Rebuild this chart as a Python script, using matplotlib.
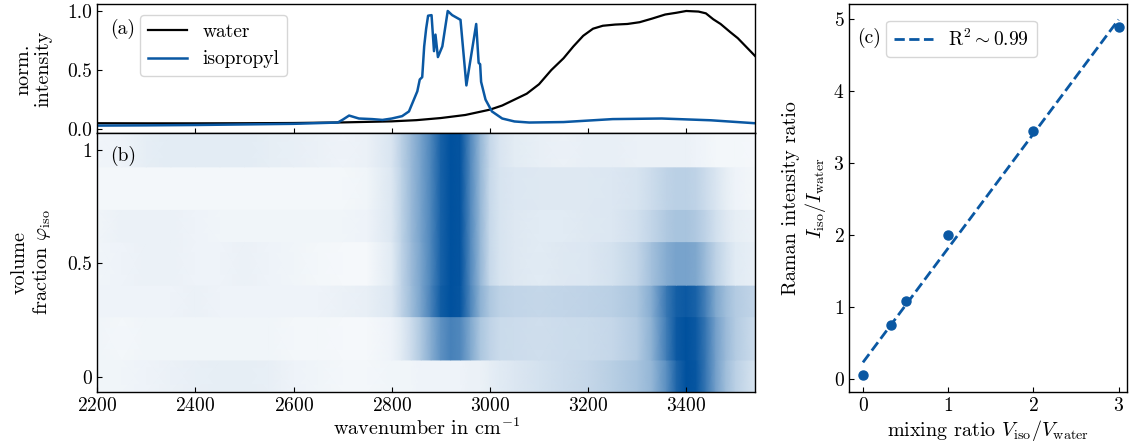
import matplotlib
matplotlib.use("Agg")
import matplotlib.pyplot as plt
import numpy as np
from matplotlib.colors import LinearSegmentedColormap

# pure spectra, normalised to their maximum
water_wn = [2200, 2300, 2400, 2500, 2600, 2700, 2800, 2850, 2900, 2950, 3000, 3025,
            3050, 3075, 3100, 3125, 3150, 3170, 3190, 3210, 3230, 3255, 3280, 3305,
            3330, 3357, 3380, 3400, 3425, 3440, 3455, 3470, 3490, 3505, 3540]
water_int = [0.050, 0.049, 0.049, 0.050, 0.052, 0.057, 0.066, 0.076, 0.094, 0.12, 0.165, 0.20,
             0.25, 0.30, 0.38, 0.50, 0.60, 0.70, 0.79, 0.85, 0.875, 0.885, 0.89, 0.905,
             0.935, 0.97, 0.985, 1.0, 0.995, 0.98, 0.93, 0.89, 0.82, 0.77, 0.62]

iso_wn = [2200, 2300, 2400, 2500, 2600, 2690, 2700, 2713, 2733, 2760, 2781, 2800,
          2821, 2835, 2845, 2852, 2857, 2862, 2866, 2870, 2874, 2881, 2886, 2889,
          2894, 2903, 2914, 2923, 2940, 2952, 2972, 2977, 2980, 2982, 2991, 3004,
          3025, 3050, 3080, 3150, 3250, 3350, 3450, 3540]
iso_int = [0.030, 0.032, 0.035, 0.040, 0.045, 0.056, 0.08, 0.115, 0.09, 0.085, 0.078, 0.09,
           0.11, 0.15, 0.25, 0.32, 0.42, 0.44, 0.70, 0.85, 0.96, 0.965, 0.66, 0.80,
           0.61, 0.70, 1.0, 0.965, 0.925, 0.37, 0.89, 0.56, 0.55, 0.40, 0.25, 0.15,
           0.09, 0.065, 0.056, 0.06, 0.085, 0.09, 0.075, 0.05]

# mixture spectra for the map, one row per volume fraction (bottom to top)
hm_wn = [2200, 2250, 2300, 2350, 2400, 2450, 2500, 2550, 2600, 2650, 2700, 2750,
         2800, 2820, 2840, 2860, 2880, 2900, 2920, 2940, 2960, 2980, 3000, 3020,
         3050, 3100, 3150, 3200, 3250, 3300, 3330, 3360, 3380, 3400, 3420, 3440,
         3460, 3480, 3500, 3540]
row_000 = [0.06, 0.06, 0.07, 0.08, 0.09, 0.10, 0.10, 0.09, 0.07, 0.06, 0.05, 0.05,
           0.06, 0.06, 0.06, 0.07, 0.07, 0.07, 0.07, 0.07, 0.08, 0.08, 0.10, 0.12,
           0.14, 0.17, 0.20, 0.23, 0.28, 0.34, 0.42, 0.65, 0.88, 1.00, 0.97, 0.78,
           0.55, 0.38, 0.27, 0.16]
row_025 = [0.06, 0.05, 0.06, 0.06, 0.06, 0.06, 0.06, 0.06, 0.05, 0.05, 0.04, 0.04,
           0.07, 0.12, 0.20, 0.32, 0.47, 0.63, 0.72, 0.68, 0.50, 0.33, 0.25, 0.21,
           0.20, 0.19, 0.20, 0.21, 0.23, 0.30, 0.45, 0.75, 0.95, 1.00, 0.95, 0.78,
           0.55, 0.40, 0.30, 0.20]
row_033 = [0.07, 0.07, 0.07, 0.07, 0.08, 0.07, 0.07, 0.07, 0.07, 0.07, 0.08, 0.09,
           0.14, 0.25, 0.38, 0.53, 0.72, 0.93, 1.00, 0.97, 0.70, 0.45, 0.32, 0.26,
           0.24, 0.23, 0.24, 0.25, 0.27, 0.33, 0.48, 0.78, 0.92, 0.95, 0.90, 0.72,
           0.50, 0.38, 0.30, 0.24]
row_050 = [0.06, 0.07, 0.08, 0.08, 0.07, 0.07, 0.08, 0.07, 0.06, 0.05, 0.04, 0.04,
           0.12, 0.25, 0.39, 0.53, 0.70, 0.91, 1.00, 0.98, 0.68, 0.42, 0.22, 0.16,
           0.13, 0.12, 0.13, 0.14, 0.17, 0.24, 0.36, 0.48, 0.53, 0.53, 0.50, 0.38,
           0.26, 0.18, 0.12, 0.09]
row_067 = [0.06, 0.08, 0.08, 0.08, 0.07, 0.06, 0.06, 0.06, 0.06, 0.06, 0.06, 0.07,
           0.14, 0.26, 0.40, 0.54, 0.70, 0.91, 1.00, 0.98, 0.68, 0.42, 0.22, 0.16,
           0.13, 0.12, 0.12, 0.13, 0.14, 0.18, 0.24, 0.31, 0.34, 0.34, 0.31, 0.25,
           0.18, 0.13, 0.10, 0.08]
row_075 = [0.05, 0.05, 0.05, 0.05, 0.05, 0.05, 0.05, 0.05, 0.05, 0.05, 0.05, 0.06,
           0.14, 0.26, 0.40, 0.54, 0.70, 0.91, 1.00, 0.98, 0.68, 0.42, 0.22, 0.16,
           0.14, 0.13, 0.13, 0.13, 0.14, 0.16, 0.20, 0.25, 0.27, 0.27, 0.25, 0.20,
           0.15, 0.10, 0.07, 0.05]
row_100 = [0.06, 0.07, 0.10, 0.11, 0.11, 0.11, 0.11, 0.10, 0.09, 0.08, 0.07, 0.08,
           0.15, 0.27, 0.40, 0.54, 0.70, 0.91, 1.00, 0.98, 0.68, 0.42, 0.23, 0.15,
           0.11, 0.09, 0.08, 0.09, 0.09, 0.08, 0.08, 0.08, 0.08, 0.08, 0.07, 0.06,
           0.05, 0.05, 0.05, 0.04]
hm_rows = [row_000, row_025, row_033, row_050, row_067, row_075, row_100]
row_edges = [-0.066, 0.074, 0.265, 0.404, 0.596, 0.738, 0.926, 1.074]

# intensity ratio vs. mixing ratio
mix_ratio = [0, 1 / 3, 0.5, 1, 2, 3]
int_ratio = [0.06, 0.75, 1.09, 2.01, 3.45, 4.90]

blue = "#0a58a3"
cmap = LinearSegmentedColormap.from_list("wb", ["#ffffff", "#00519e"])

plt.rcParams.update({
    "font.family": "serif",
    "font.serif": ["cmr10"],
    "mathtext.fontset": "cm",
    "axes.formatter.use_mathtext": True,
    "font.size": 14,
    "axes.labelsize": 14.5,
    "xtick.direction": "in",
    "ytick.direction": "in",
    "axes.linewidth": 1.0,
})

fig = plt.figure(figsize=(11.29, 4.48), dpi=100)
ax_a = fig.add_axes([0.0862, 0.7025, 0.5825, 0.2875])
ax_b = fig.add_axes([0.0862, 0.1257, 0.5825, 0.5768], sharex=ax_a)
ax_c = fig.add_axes([0.7523, 0.125, 0.2460, 0.8654])

# (a) reference spectra
ax_a.plot(water_wn, water_int, color="black", lw=1.6, label="water")
ax_a.plot(iso_wn, iso_int, color=blue, lw=1.8, label="isopropyl")
ax_a.set_ylim(-0.035, 1.055)
ax_a.set_yticks([0, 0.5, 1.0])
ax_a.set_yticklabels(["0.0", "0.5", "1.0"])
ax_a.tick_params(labelbottom=False)
ax_a.set_ylabel("norm.\nintensity", linespacing=1.15)
ax_a.yaxis.set_label_coords(-0.068, 0.5)
ax_a.text(0.02, 0.81, "(a)", transform=ax_a.transAxes, va="center", ha="left")
ax_a.legend(loc="upper left", bbox_to_anchor=(0.065, 0.918), borderaxespad=0)

# (b) spectra of the mixtures
wn = np.array(hm_wn)
for lo, hi, row in zip(row_edges[:-1], row_edges[1:], hm_rows):
    X, Y = np.meshgrid(wn, [lo, hi])
    C = np.vstack([row, row])
    ax_b.pcolormesh(X, Y, C, shading="gouraud", cmap=cmap, vmin=0, vmax=1)
ax_b.set_xlim(2200, 3540)
ax_b.set_ylim(row_edges[0], row_edges[-1])
ax_b.set_xticks([2200, 2400, 2600, 2800, 3000, 3200, 3400])
ax_b.set_yticks([0, 0.5, 1])
ax_b.set_yticklabels(["0", "0.5", "1"])
ax_b.set_xlabel("wavenumber in cm$^{-1}$", labelpad=2)
ax_b.set_ylabel("volume\nfraction $\\varphi_\\mathrm{iso}$", linespacing=1.15)
ax_b.yaxis.set_label_coords(-0.068, 0.5)
ax_b.text(0.02, 0.912, "(b)", transform=ax_b.transAxes, va="center", ha="left")

# (c) intensity ratio with linear fit
slope, offset = np.polyfit(mix_ratio, int_ratio, 1)
xfit = np.array([0, 3])
ax_c.plot(xfit, offset + slope * xfit, "--", color=blue, lw=2,
          label="$\\mathrm{R}^2\\sim0.99$")
ax_c.plot(mix_ratio, int_ratio, "o", color=blue, ms=6.5)
ax_c.set_xlim(-0.16, 3.1)
ax_c.set_ylim(-0.176, 5.21)
ax_c.set_xticks([0, 1, 2, 3])
ax_c.set_yticks([0, 1, 2, 3, 4, 5])
ax_c.set_xlabel("mixing ratio $V_\\mathrm{iso}/V_\\mathrm{water}$", labelpad=2)
ax_c.set_ylabel("Raman intensity ratio\n$I_\\mathrm{iso}/I_\\mathrm{water}$", linespacing=1.15)
ax_c.yaxis.set_label_coords(-0.077, 0.5)
ax_c.text(0.027, 0.914, "(c)", transform=ax_c.transAxes, va="center", ha="left")
ax_c.legend(loc="upper left", bbox_to_anchor=(0.132, 0.958), borderaxespad=0)

fig.savefig("out.png", dpi=100)
